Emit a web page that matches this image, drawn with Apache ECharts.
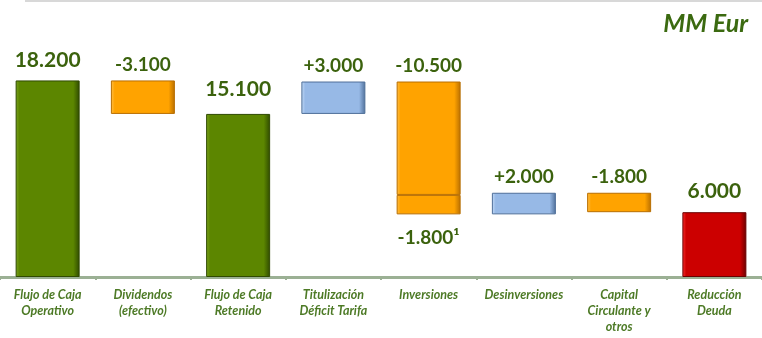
<!DOCTYPE html>
<html><head><meta charset="utf-8">
<script src="https://cdn.jsdelivr.net/npm/echarts@6/dist/echarts.min.js"></script>
<style>html,body{margin:0;padding:0;background:#fff}#c{width:762px;height:338px}</style>
</head><body><div id="c"></div>
<script>
const categories = ['Flujo de Caja\nOperativo','Dividendos\n(efectivo)','Flujo de Caja\nRetenido','Titulización\nDéficit Tarifa','Inversiones','Desinversiones','Capital\nCirculante y\notros','Reducción\nDeuda'];
const values = [18200, -3100, 15100, 3000, -10500, 2000, -1800, 6000];
const kinds = ['total','delta','total','delta','delta','delta','delta','total'];
const labels = ['18.200','-3.100','15.100','+3.000','-10.500','+2.000','-1.800','6.000'];
const extraValues = [0, 0, 0, 0, -1800, 0, 0, 0];
const extraLabels = ['', '', '', '', '-1.800¹', '', '', ''];

const pal = {
  green: ['#7aa41c', '#5c8600', '#2f4a00'],
  orange: ['#ffc04a', '#ffa300', '#b86e00'],
  blue: ['#c4dbf7', '#97b9e6', '#4f6f99'],
  red: ['#ff3030', '#cc0000', '#6a0000']
};
function grad(p){
  return new echarts.graphic.LinearGradient(0,0,1,0,[
    {offset:0,color:p[0]},{offset:0.06,color:p[1]},{offset:0.9,color:p[1]},{offset:1,color:p[2]}]);
}
function colorFor(i){
  if (kinds[i]==='total') return i===7 ? pal.red : pal.green;
  return values[i] < 0 ? pal.orange : pal.blue;
}

const base = [], main = [], extra = [];
let run = 0;
for (let i=0;i<values.length;i++){
  const v = values[i], e = extraValues[i];
  if (kinds[i]==='total'){ run = v; base.push(0); main.push(v); extra.push(0); continue; }
  const after = run + v, after2 = after + e;
  if (e !== 0){
    base.push(Math.min(after2, after)); extra.push(Math.abs(e)); main.push(Math.abs(v));
  } else {
    base.push(Math.min(run, after)); extra.push(0); main.push(Math.abs(v));
  }
  run = after2;
}

const labelColor = '#3b620d';
const chart = echarts.init(document.getElementById('c'));
chart.setOption({
  animation:false,
  grid:{left:0,right:0,top:61,bottom:61},
  xAxis:{type:'category',data:categories,
    axisLine:{lineStyle:{color:'#9bb094',width:3}},
    axisTick:{show:true,interval:0,length:3,lineStyle:{color:'#9bb094',width:2}},
    axisLabel:{interval:0,fontFamily:'Lato',fontStyle:'italic',fontWeight:'bold',fontSize:12.5,color:'#4d7a26',lineHeight:16,margin:10}},
  yAxis:{type:'value',min:0,max:20000,show:false,splitLine:{show:false}},
  graphic:[
    {type:'line',shape:{x1:25,y1:1,x2:762,y2:1},style:{stroke:'#d8d8d8',lineWidth:2}},
    {type:'text',right:14,top:11,style:{text:'MM Eur',font:'italic bold 25px Lato',fill:'#3b6a10'}}
  ],
  series:[
    {type:'bar',stack:'w',data:base,barWidth:64,itemStyle:{color:'transparent'},silent:true},
    {type:'bar',stack:'w',data:extra.map((v,i)=>({value:v||'-',
      itemStyle:{color:grad(pal.orange),borderColor:pal.orange[2],borderWidth:1},
      label:{show:!!v,position:'bottom',distance:14,formatter:extraLabels[i],
        fontFamily:'Lato',fontWeight:'bold',fontSize:19,color:labelColor}})),barWidth:64},
    {type:'bar',stack:'w',data:main.map((v,i)=>({value:v,
      itemStyle:{color:grad(colorFor(i)),borderColor:colorFor(i)[2],borderWidth:1},
      label:{show:true,position:'top',distance:kinds[i]==='total'?(i===2?14:10):6,formatter:labels[i],
        fontFamily:'Lato',fontWeight:'bold',fontSize:kinds[i]==='total'?21:19,color:labelColor}})),barWidth:64}
  ]
});
</script></body></html>
